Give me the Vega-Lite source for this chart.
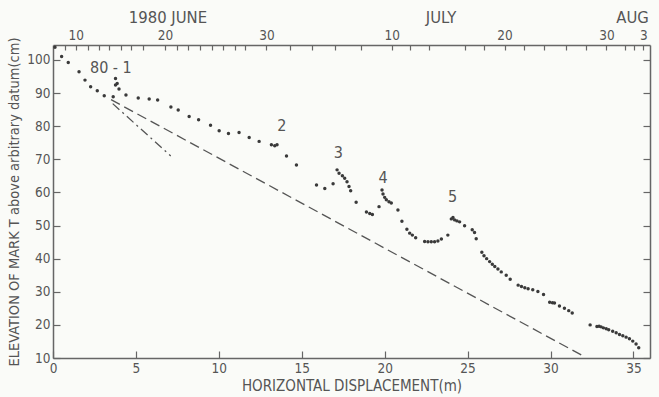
{
  "$schema": "https://vega.github.io/schema/vega-lite/v6.json",
  "width": 597,
  "height": 313,
  "autosize": {"type": "none"},
  "padding": {"left": 53, "top": 45, "right": 9, "bottom": 39},
  "background": "#fafbf8",
  "config": {
    "view": {"stroke": null},
    "font": "DejaVu Sans Condensed, Roboto, sans-serif",
    "axis": {
      "grid": false,
      "domainColor": "#666666",
      "domainWidth": 1.5,
      "tickColor": "#666666",
      "tickWidth": 1.2,
      "labelColor": "#555555",
      "labelFont": "DejaVu Sans Condensed, Roboto, sans-serif",
      "labelFontSize": 13.5,
      "titleColor": "#555555",
      "titleFont": "DejaVu Sans Condensed, Roboto, sans-serif",
      "titleFontSize": 15,
      "titleFontWeight": "normal",
      "labelFlush": false,
      "labelOverlap": false
    }
  },
  "resolve": {"axis": {"x": "independent", "y": "independent"}},
  "layer": [
    {
      "data": {"values": [
        {"d": 0.12, "e": 103.8}, {"d": 0.52, "e": 101.0}, {"d": 0.92, "e": 99.2}, {"d": 1.57, "e": 96.4},
        {"d": 1.93, "e": 93.9}, {"d": 2.27, "e": 91.9}, {"d": 2.67, "e": 90.7}, {"d": 3.09, "e": 89.2},
        {"d": 3.63, "e": 88.9}, {"d": 3.77, "e": 94.4}, {"d": 3.77, "e": 92.4}, {"d": 3.87, "e": 92.9},
        {"d": 3.98, "e": 91.2}, {"d": 4.40, "e": 89.4}, {"d": 5.14, "e": 88.5}, {"d": 5.80, "e": 88.2},
        {"d": 6.31, "e": 87.9}, {"d": 7.11, "e": 85.8}, {"d": 7.55, "e": 84.9}, {"d": 8.21, "e": 82.9},
        {"d": 8.78, "e": 81.9}, {"d": 9.50, "e": 80.3}, {"d": 10.02, "e": 78.6}, {"d": 10.58, "e": 77.8},
        {"d": 11.22, "e": 78.1}, {"d": 11.83, "e": 76.6}, {"d": 12.43, "e": 75.4}, {"d": 13.17, "e": 74.4},
        {"d": 13.37, "e": 74.1}, {"d": 13.51, "e": 74.4}, {"d": 14.08, "e": 71.0}, {"d": 14.68, "e": 68.3},
        {"d": 15.89, "e": 62.2}, {"d": 16.39, "e": 61.2}, {"d": 16.89, "e": 62.6}, {"d": 17.13, "e": 66.8},
        {"d": 17.25, "e": 65.8}, {"d": 17.45, "e": 65.0}, {"d": 17.59, "e": 64.3}, {"d": 17.73, "e": 63.2},
        {"d": 17.85, "e": 61.8}, {"d": 17.95, "e": 60.5}, {"d": 18.28, "e": 57.0}, {"d": 18.90, "e": 54.1},
        {"d": 19.10, "e": 53.6}, {"d": 19.26, "e": 53.3}, {"d": 19.66, "e": 55.7}, {"d": 19.84, "e": 60.7},
        {"d": 19.90, "e": 59.5}, {"d": 20.00, "e": 58.5}, {"d": 20.10, "e": 57.8}, {"d": 20.26, "e": 57.2},
        {"d": 20.40, "e": 56.8}, {"d": 20.80, "e": 54.7}, {"d": 21.04, "e": 51.3}, {"d": 21.34, "e": 48.9},
        {"d": 21.51, "e": 47.7}, {"d": 21.67, "e": 47.1}, {"d": 21.87, "e": 46.3}, {"d": 22.41, "e": 45.2},
        {"d": 22.61, "e": 45.1}, {"d": 22.81, "e": 45.1}, {"d": 23.01, "e": 45.1}, {"d": 23.21, "e": 45.3},
        {"d": 23.42, "e": 45.9}, {"d": 23.81, "e": 47.1}, {"d": 24.02, "e": 52.0}, {"d": 24.12, "e": 52.4},
        {"d": 24.22, "e": 51.7}, {"d": 24.36, "e": 51.4}, {"d": 24.52, "e": 51.1}, {"d": 24.82, "e": 49.9},
        {"d": 25.28, "e": 48.7}, {"d": 25.42, "e": 47.9}, {"d": 25.52, "e": 46.0}, {"d": 25.86, "e": 41.9},
        {"d": 25.99, "e": 40.9}, {"d": 26.15, "e": 40.0}, {"d": 26.33, "e": 39.1}, {"d": 26.49, "e": 38.3},
        {"d": 26.64, "e": 37.6}, {"d": 26.83, "e": 36.9}, {"d": 27.03, "e": 36.0}, {"d": 27.33, "e": 35.0},
        {"d": 27.57, "e": 33.8}, {"d": 28.05, "e": 32.0}, {"d": 28.25, "e": 31.6}, {"d": 28.45, "e": 31.2},
        {"d": 28.65, "e": 30.9}, {"d": 28.93, "e": 30.6}, {"d": 29.24, "e": 30.1}, {"d": 29.58, "e": 29.2},
        {"d": 29.95, "e": 26.8}, {"d": 30.12, "e": 26.7}, {"d": 30.24, "e": 26.6}, {"d": 30.54, "e": 25.7},
        {"d": 30.84, "e": 25.0}, {"d": 31.10, "e": 24.3}, {"d": 31.31, "e": 23.6}, {"d": 32.39, "e": 20.0},
        {"d": 32.80, "e": 19.5}, {"d": 32.93, "e": 19.6}, {"d": 33.05, "e": 19.4}, {"d": 33.19, "e": 19.1},
        {"d": 33.36, "e": 18.8}, {"d": 33.51, "e": 18.5}, {"d": 33.75, "e": 18.1}, {"d": 33.96, "e": 17.6},
        {"d": 34.16, "e": 17.1}, {"d": 34.36, "e": 16.7}, {"d": 34.56, "e": 16.3}, {"d": 34.76, "e": 15.8},
        {"d": 34.96, "e": 15.1}, {"d": 35.16, "e": 14.2}, {"d": 35.32, "e": 13.1}
      ]},
      "mark": {"type": "circle", "size": 12, "color": "#3a3a3a", "opacity": 1},
      "encoding": {
        "x": {
          "field": "d", "type": "quantitative",
          "scale": {"domain": [0, 36], "nice": false, "zero": false},
          "axis": {
            "orient": "bottom", "values": [0, 5, 10, 15, 20, 25, 30, 35],
            "tickSize": -7, "labelPadding": 10,
            "title": "HORIZONTAL DISPLACEMENT(m)", "titlePadding": 4
          }
        },
        "y": {
          "field": "e", "type": "quantitative",
          "scale": {"domain": [10, 104.5], "nice": false, "zero": false},
          "axis": {
            "orient": "left", "values": [10, 20, 30, 40, 50, 60, 70, 80, 90, 100],
            "tickSize": -7, "labelPadding": 10,
            "title": "ELEVATION OF MARK T above arbitrary datum(cm)", "titlePadding": 5, "titleFontSize": 14.5
          }
        }
      }
    },
    {
      "data": {"values": [{"d": 3.5, "e": 88.0}, {"d": 31.9, "e": 10.8}]},
      "mark": {"type": "line", "color": "#555555", "strokeWidth": 1.3, "strokeDash": [10, 5]},
      "encoding": {
        "x": {
          "field": "d", "type": "quantitative",
          "axis": {
            "orient": "top", "title": null,
            "values": [0.72, 1.37, 2.09, 2.77, 3.37, 4.10, 4.70, 5.42, 6.75, 7.45, 8.13, 8.86, 9.58, 10.24, 10.96, 11.57, 12.87, 14.28, 15.60, 16.99, 18.60, 20.42, 21.55, 22.65, 24.82, 26.02, 27.23, 28.43, 29.58, 30.96, 32.17, 33.37, 34.52, 35.06, 35.6],
            "labelExpr": "datum.value==1.37?'10':datum.value==6.75?'20':datum.value==12.87?'30':datum.value==20.42?'10':datum.value==27.23?'20':datum.value==33.37?'30':datum.value==35.6?'3':''",
            "tickSize": -5, "labelPadding": 8
          }
        },
        "y": {
          "field": "e", "type": "quantitative",
          "axis": {
            "orient": "right", "title": null, "labels": false,
            "values": [10, 20, 30, 40, 50, 60, 70, 80, 90, 100],
            "tickSize": -7
          }
        }
      }
    },
    {
      "data": {"values": [{"d": 3.6, "e": 86.8}, {"d": 7.1, "e": 71.0}]},
      "mark": {"type": "line", "color": "#555555", "strokeWidth": 1.3, "strokeDash": [9, 4, 2, 4]},
      "encoding": {
        "x": {"field": "d", "type": "quantitative", "axis": null},
        "y": {"field": "e", "type": "quantitative", "axis": null}
      }
    },
    {
      "data": {"values": [
        {"d": 3.49, "e": 97.6, "t": "80 - 1"},
        {"d": 13.8, "e": 80.0, "t": "2"},
        {"d": 17.2, "e": 71.9, "t": "3"},
        {"d": 19.9, "e": 64.2, "t": "4"},
        {"d": 24.1, "e": 58.7, "t": "5"}
      ]},
      "mark": {"type": "text", "color": "#555555", "font": "DejaVu Sans Condensed, Roboto, sans-serif", "baseline": "middle", "align": "center", "fontSize": 16},
      "encoding": {
        "x": {"field": "d", "type": "quantitative", "axis": null},
        "y": {"field": "e", "type": "quantitative", "axis": null},
        "text": {"field": "t"}
      }
    },
    {
      "data": {"values": [
        {"d": 6.93, "e": 112.6, "t": "1980 JUNE"},
        {"d": 23.4, "e": 112.6, "t": "JULY"},
        {"d": 34.95, "e": 112.6, "t": "AUG"}
      ]},
      "mark": {"type": "text", "color": "#555555", "font": "DejaVu Sans Condensed, Roboto, sans-serif", "baseline": "middle", "align": "center", "fontSize": 16.5},
      "encoding": {
        "x": {"field": "d", "type": "quantitative", "axis": null},
        "y": {"field": "e", "type": "quantitative", "axis": null},
        "text": {"field": "t"}
      }
    }
  ]
}
